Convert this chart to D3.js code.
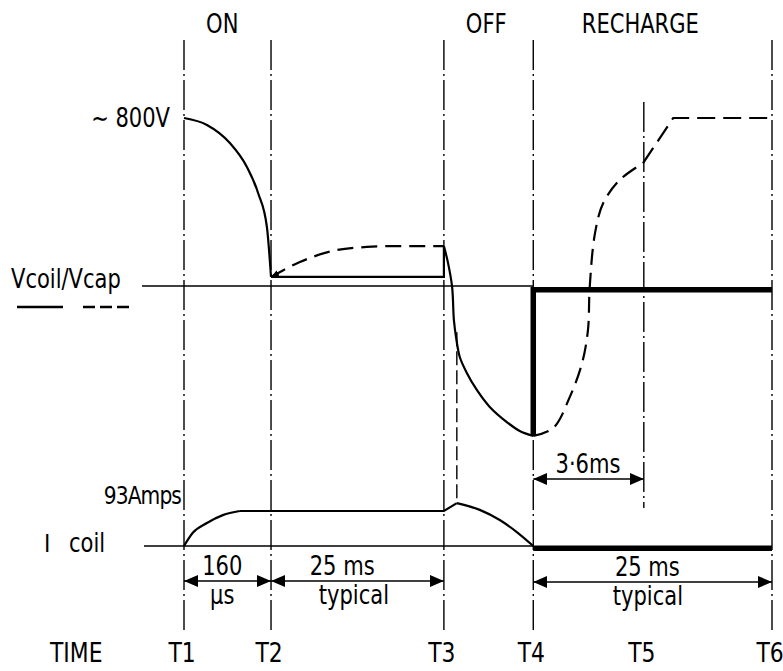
<!DOCTYPE html>
<script src="https://d3js.org/d3.v7.min.js"></script>
<style>
    html, body { margin: 0; background-color: white; }
    text { font-family: "DejaVu Sans Condensed", "DejaVu Sans", sans-serif; fill: black; }
</style>
<body></body>
<script>
    // DESIGN CONSTANTS
    const width = 783;
    const height = 671;

    // time marks (diagram units, T1 = 0 .. T6 = 100)
    const timeLabels = ["T1", "T2", "T3", "T4", "T5", "T6"];
    const timeMarks  = [0, 14.8, 44.2, 59.4, 78.2, 100];

    const phaseLabels = ["ON", "OFF", "RECHARGE"];
    const phaseCenters = [6.5, 51.4, 77.6];

    // Vcoil (solid) in volts
    const vcoilDischarge = [[0, 800], [3.9, 767], [7.8, 681], [10.7, 567], [12.6, 443], [14.1, 281], [14.8, 43]];
    const vcoilHold = [[14.8, 43], [44.2, 43], [44.2, 190]];
    const vcoilOff = [[44.2, 190], [44.9, 110], [45.6, -5], [45.9, -162], [46.3, -250], [46.9, -338],
                      [48.1, -414], [49.8, -495], [52.0, -576], [54.9, -648], [57.1, -690], [59.4, -714]];
    const vcoilRecharge = [[59.4, -714], [59.4, -18], [100, -18]];

    // Vcap (dashed) in volts
    const vcapHold = [[14.8, 43], [19.7, 114], [25.3, 167], [31.1, 186], [36, 190], [44.2, 190]];
    const vcapRecharge = [[59.4, -714], [62.8, -676], [65.6, -529], [67.7, -367], [68.7, -210], [69.0, -5],
                          [69.9, 252], [71.3, 395], [74.1, 505], [78.1, 586]];
    const vcapTop = [[78.1, 586], [83.2, 800], [100, 800]];

    // I coil in amps
    const icoilRise = [[0, 0], [1.5, 35], [3.9, 61], [6.6, 82], [9.5, 93]];
    const icoilHold = [[9.5, 93], [44.2, 93], [46.4, 114]];
    const icoilFall = [[46.4, 114], [50.3, 96], [53.7, 69], [56.6, 37], [59.4, 0]];
    const icoilOffState = [[59.4, -6], [100, -6]];
    const peakTime = 46.4;

    // dimension arrows
    const dimFrom    = [0, 14.8, 59.4, 59.4];
    const dimTo      = [14.8, 44.2, 78.2, 100];
    const dimTop     = ["160", "25 ms", "3·6ms", "25 ms"];
    const dimBottom  = ["\u03bcs", "typical", "", "typical"];
    const dimRowY    = [581, 581, 479, 582];
    const dimTextX   = [6.5, 26.9, 68.7, 78.8];
    const dimBottomX = [6.5, 28.9, 0, 78.9];

    const svg = d3.select("body").append("svg")
        .attr("width", width)
        .attr("height", height);

    // scales
    const x  = d3.scaleLinear().domain([0, 100]).range([184, 772]);
    const yV = d3.scaleLinear().domain([0, 800]).range([286, 118]);
    const yI = d3.scaleLinear().domain([0, 93]).range([546, 511]);

    // arrow markers
    const defs = svg.append("defs");
    defs.append("marker")
        .attr("id", "arrow")
        .attr("markerUnits", "userSpaceOnUse")
        .attr("viewBox", "0 0 14 12")
        .attr("refX", 14).attr("refY", 6)
        .attr("markerWidth", 14).attr("markerHeight", 12)
        .attr("orient", "auto-start-reverse")
        .append("path").attr("d", "M0,0 L14,6 L0,12 Z").attr("fill", "black");
    defs.append("marker")
        .attr("id", "small-arrow")
        .attr("markerUnits", "userSpaceOnUse")
        .attr("viewBox", "0 0 8 6")
        .attr("refX", 8).attr("refY", 3)
        .attr("markerWidth", 8).attr("markerHeight", 6)
        .attr("orient", "auto-start-reverse")
        .append("path").attr("d", "M0,0 L8,3 L0,6 Z").attr("fill", "black");

    // text helper: slightly narrowed lettering like the drawing's stencil font
    function label(px, py, str, size, anchor) {
        return svg.append("text")
            .attr("transform", `translate(${px},${py}) scale(0.9,1)`)
            .attr("text-anchor", anchor || "start")
            .attr("font-size", size)
            .text(str);
    }

    // vertical time lines (dash-dot)
    timeMarks.forEach(function(t, i) {
        svg.append("line")
            .attr("x1", x(t)).attr("x2", x(t))
            .attr("y1", i == 4 ? 102 : 40)
            .attr("y2", i == 4 ? 508 : 630)
            .attr("stroke", "black")
            .attr("stroke-width", 1.4)
            .attr("stroke-dasharray", "30 4 2 4");
        label(x(t) - 2, 662, timeLabels[i], 27, "middle");
    });

    phaseLabels.forEach(function(p, i) {
        label(x(phaseCenters[i]), 33, p, 26, "middle");
    });

    // baselines
    svg.append("line")
        .attr("x1", 142).attr("x2", x(timeMarks[3]))
        .attr("y1", yV(0)).attr("y2", yV(0))
        .attr("stroke", "black").attr("stroke-width", 1.4);
    svg.append("line")
        .attr("x1", 144).attr("x2", x(timeMarks[3]))
        .attr("y1", yI(0)).attr("y2", yI(0))
        .attr("stroke", "black").attr("stroke-width", 1.4);

    const monoV = d3.line().x(d => x(d[0])).y(d => yV(d[1])).curve(d3.curveMonotoneX);
    const roundV = d3.line().x(d => x(d[0])).y(d => yV(d[1])).curve(d3.curveCatmullRom.alpha(0.5));
    const straightV = d3.line().x(d => x(d[0])).y(d => yV(d[1]));
    const monoI = d3.line().x(d => x(d[0])).y(d => yI(d[1])).curve(d3.curveMonotoneX);
    const straightI = d3.line().x(d => x(d[0])).y(d => yI(d[1]));

    function draw(gen, data, w, dash) {
        return svg.append("path")
            .attr("d", gen(data))
            .attr("fill", "none")
            .attr("stroke", "black")
            .attr("stroke-width", w)
            .attr("stroke-dasharray", dash || null);
    }

    // Vcoil
    draw(monoV, vcoilDischarge, 2.2);
    draw(straightV, vcoilHold, 2.2);
    draw(roundV, vcoilOff, 2.2);
    draw(straightV, vcoilRecharge, 5.5).attr("stroke-linejoin", "miter");

    // Vcap
    draw(monoV, vcapHold, 2.2, "16 8").attr("marker-start", "url(#small-arrow)");
    draw(roundV, vcapRecharge, 2.2, "16 8");
    draw(straightV, vcapTop, 2.2, "18 8");

    // I coil
    draw(monoI, icoilRise, 2.2);
    draw(straightI, icoilHold, 2.2);
    draw(monoI, icoilFall, 2.2);
    draw(straightI, icoilOffState, 5.5);

    // dashed marker at current peak
    svg.append("line")
        .attr("x1", x(peakTime)).attr("x2", x(peakTime))
        .attr("y1", yV(-220)).attr("y2", yI(114))
        .attr("stroke", "black").attr("stroke-width", 1.4)
        .attr("stroke-dasharray", "14 5");

    // dimension arrows
    dimFrom.forEach(function(f, i) {
        svg.append("line")
            .attr("x1", x(f)).attr("x2", x(dimTo[i]))
            .attr("y1", dimRowY[i]).attr("y2", dimRowY[i])
            .attr("stroke", "black").attr("stroke-width", 1.5)
            .attr("marker-start", "url(#arrow)")
            .attr("marker-end", "url(#arrow)");
        label(x(dimTextX[i]), dimRowY[i] - 6, dimTop[i], 26, "middle");
        if (dimBottom[i]) {
            label(x(dimBottomX[i]), dimRowY[i] + 23, dimBottom[i], 26, "middle");
        }
    });

    // left labels
    label(170, 127, "\u223c 800V", 26, "end");
    label(11, 288, "Vcoil/Vcap", 26);
    svg.append("line").attr("x1", 17).attr("x2", 63).attr("y1", 307).attr("y2", 307)
        .attr("stroke", "black").attr("stroke-width", 2.5);
    svg.append("line").attr("x1", 83).attr("x2", 129).attr("y1", 307).attr("y2", 307)
        .attr("stroke", "black").attr("stroke-width", 2.5).attr("stroke-dasharray", "12 5");
    label(181, 504, "93Amps", 25, "end").attr("letter-spacing", -1);
    svg.append("text").attr("x", 44).attr("y", 552)
        .attr("font-size", 24).attr("font-family", "DejaVu Serif").text("I");
    label(69, 552, "coil", 26);
    label(50, 662, "TIME", 27);
</script>
